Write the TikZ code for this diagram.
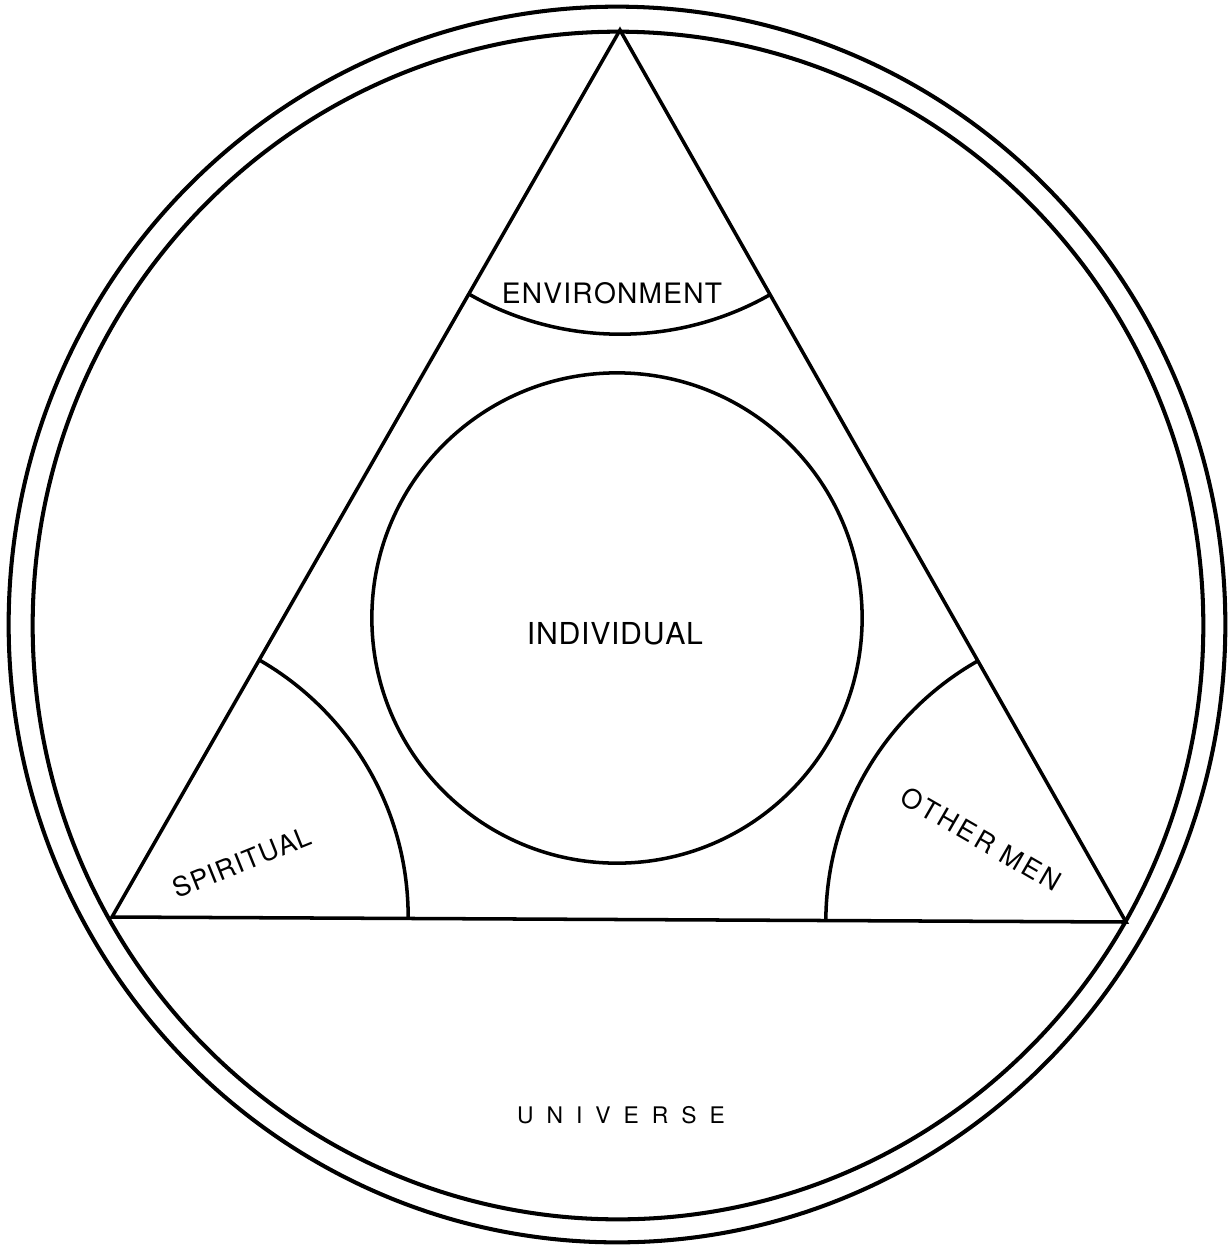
\documentclass[tikz,border=0pt]{standalone}
\usepackage{fontspec}
\setmainfont{TeX Gyre Heros}
\newdimen\lsk
\def\lsp#1{\lsploop#1\relax}
\def\lsploop#1#2{#1\ifx#2\relax\else\kern\lsk\expandafter\lsploop\fi#2}
\begin{document}
\begin{tikzpicture}[x=0.01cm,y=0.01cm,
  ring/.style={line width=1.15pt},
  edge/.style={line width=1.0pt},
  lbl/.style={inner sep=0pt,anchor=center,text=black}]
\useasboundingbox (0,0) rectangle (1229,-1247);
% outer double circle
\coordinate (O1) at (617,-624.5);
\coordinate (O2) at (618,-625.5);
\draw[ring] (O1) ellipse [x radius=6.08cm, y radius=6.175cm];
\draw[ring] (O2) ellipse [x radius=5.85cm, y radius=5.935cm];
% triangle
\coordinate (A) at (620,-30);
\coordinate (B) at (112,-917);
\coordinate (C) at (1126,-922);
\draw[edge,line join=miter] (A) -- (B) -- (C) -- cycle;
% corner arcs
\begin{scope}
  \clip (A) -- (B) -- (C) -- cycle;
  \draw[edge] (A) circle[radius=3.04cm];
  \draw[edge] (B) circle[radius=2.96cm];
  \draw[edge] (C) circle[radius=3.00cm];
\end{scope}
% inner circle
\coordinate (M) at (617,-618);
\draw[edge] (M) circle[radius=2.45cm];
% labels
\node[lbl] (env) at (612,-293) {\fontsize{8}{9}\selectfont\lsk=0.35pt\lsp{ENVIRONMENT}};
\node[lbl] (ind) at (615,-634) {\fontsize{8.6}{10}\selectfont\lsk=0.2pt\lsp{INDIVIDUAL}};
\node[lbl,rotate=22] (spi) at (242,-862) {\fontsize{7.6}{8}\selectfont\lsk=0.3pt\lsp{SPIRITUAL}};
\node[lbl,rotate=-30] (oth) at (981,-839) {\fontsize{7.6}{8}\selectfont\lsk=0.8pt\lsp{OTHER}\kern3pt\lsp{MEN}};
\node[lbl] (uni) at (621,-1115) {\fontsize{6.5}{7}\selectfont\lsk=3.7pt\lsp{UNIVERSE}};
\end{tikzpicture}
\end{document}
